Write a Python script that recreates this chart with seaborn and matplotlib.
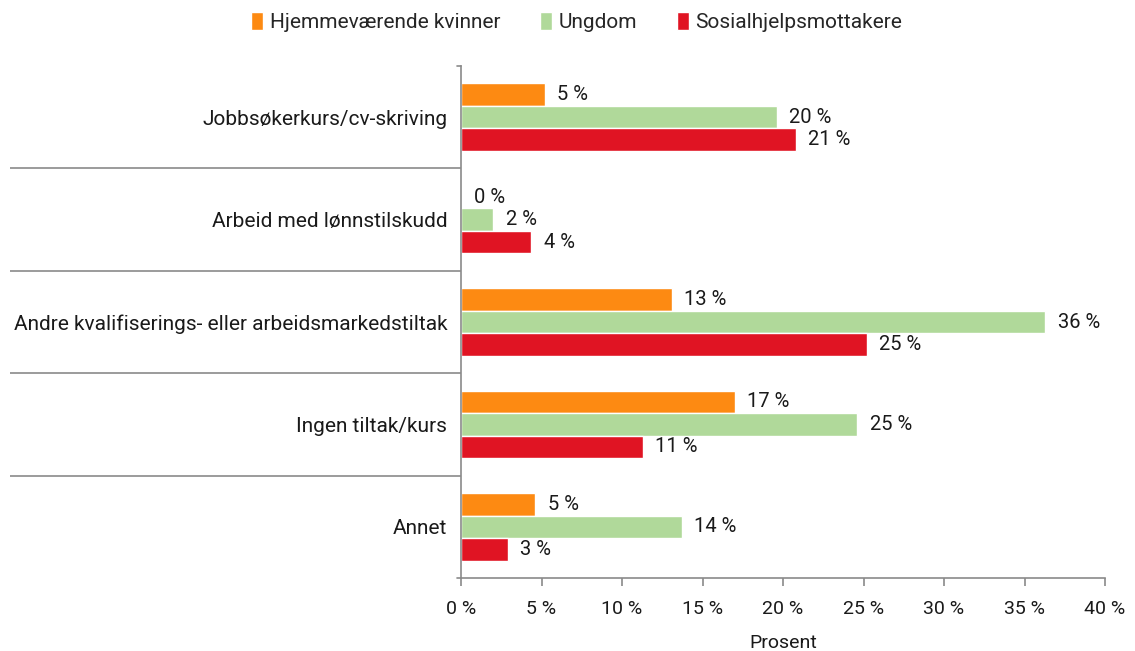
import pandas as pd
import seaborn as sns
import matplotlib.pyplot as plt

# data (percent)
tiltak = ['Jobbsøkerkurs/cv-skriving', 'Arbeid med lønnstilskudd',
          'Andre kvalifiserings- eller arbeidsmarkedstiltak',
          'Ingen tiltak/kurs', 'Annet']
grupper = ['Hjemmeværende kvinner', 'Ungdom', 'Sosialhjelpsmottakere']
hjemme = [5.2, 0.0, 13.1, 17.0, 4.6]
ungdom = [19.6, 2.0, 36.3, 24.6, 13.7]
sosial = [20.8, 4.35, 25.2, 11.3, 2.9]
farger = ['#FD8A12', '#B0D99A', '#E01423']
xticks = [0, 5, 10, 15, 20, 25, 30, 35, 40]

df = pd.DataFrame({
    'tiltak': tiltak * 3,
    'gruppe': [g for g in grupper for _ in tiltak],
    'prosent': hjemme + ungdom + sosial,
})

sns.set_style('white')
plt.rcParams['font.family'] = ['Roboto', 'DejaVu Sans']
grey = '#8a8a8a'
txt = '#1a1a1a'

fig = plt.figure(figsize=(11.35, 6.51), dpi=100)
ax = fig.add_axes([0.4062, 0.1121, 0.5674, 0.7865])

sns.barplot(data=df, y='tiltak', x='prosent', hue='gruppe', order=tiltak,
            hue_order=grupper, palette=farger, orient='h', width=0.66,
            saturation=1, ax=ax)

for c in ax.containers:
    ax.bar_label(c, labels=[f'{v:.0f} %' for v in c.datavalues],
                 padding=9, fontsize=14.5, color=txt)

ax.set_xlim(0, 40)
ax.set_ylim(4.5, -0.5)
ax.set_xticks(xticks)
ax.set_xticklabels([f'{t} %' for t in xticks], fontsize=14, color=txt)
ax.set_xlabel('Prosent', fontsize=14, color=txt, labelpad=11)
ax.set_ylabel('')
ax.tick_params(axis='x', bottom=True, direction='out', length=6, color=grey,
               width=1.2, pad=10)
ax.tick_params(axis='y', which='major', left=True, length=0, pad=10,
               labelsize=15, labelcolor=txt)

# long separator ticks between categories
ax.set_yticks([0.5, 1.5, 2.5, 3.5], minor=True)
ax.tick_params(axis='y', which='minor', left=True, direction='out',
               length=325, color=grey, width=1.2)
for yb in [-0.5, 4.5]:
    ax.plot([-0.25, 0], [yb, yb], color=grey, lw=1.2, clip_on=False)

sns.despine(ax=ax, top=True, right=True)
for s in ['left', 'bottom']:
    ax.spines[s].set_color(grey)
    ax.spines[s].set_linewidth(1.2)

ax.legend(loc='upper center', bbox_to_anchor=(0.508, 1.01),
          bbox_transform=fig.transFigure, ncol=3, frameon=False,
          fontsize=15, handlelength=0.6, handleheight=0.9,
          handletextpad=0.3, columnspacing=1.9)

fig.savefig('out.png', dpi=100)
